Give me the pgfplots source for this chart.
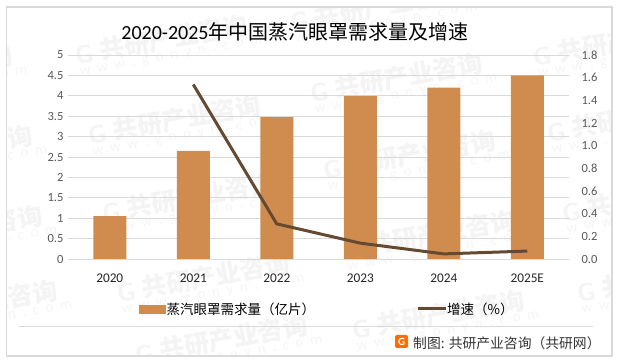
\documentclass[border=0pt]{standalone}
\usepackage{pgfplots}
\usepackage{pgfplotstable}
\usepackage{fontspec}
\pgfplotsset{compat=1.18}
\setmainfont{Carlito}
\newfontfamily\cjk{Noto Sans CJK SC}
\definecolor{barc}{HTML}{D08C4F}
\definecolor{linec}{HTML}{654A32}
\definecolor{gridc}{HTML}{D9D9D9}
\definecolor{tickc}{HTML}{595959}
\definecolor{wmc}{HTML}{F4F4F4}
\definecolor{wmd}{HTML}{F5F5F5}
\newcommand{\wm}[2]{%
  \node[rotate=10,anchor=west,inner sep=0pt,text=wmc] at ({#1},{363-#2})
    {\cjk\bfseries\fontsize{25}{25}\selectfont\makebox[25pt][l]{\textsf{G}}共研产业咨询};%
  \node[rotate=10,anchor=west,inner sep=0pt,text=wmd] at ({#1+5},{363-#2-18})
    {\fontsize{15}{15}\selectfont w\ \ w\ \ w\ \ .\ \ g\ \ o\ \ n\ \ y\ \ n\ \ .\ \ c\ \ o\ \ m};}
\pgfplotstableread{
x y
0 1.05
1 2.65
2 3.48
3 4.0
4 4.2
5 4.5
}\bars
\pgfplotstableread{
x y
1 1.54
2 0.31
3 0.14
4 0.045
5 0.07
}\rate
\begin{document}
\begin{tikzpicture}[x=1pt,y=1pt]
\path[use as bounding box,fill=white] (0,0) rectangle (620,363);
\begin{scope}
\clip (6,7) rectangle (611,356);
\wm{75}{55}\wm{88}{135}\wm{102}{213}\wm{117}{293}\wm{135}{355}
\wm{290}{22}\wm{310}{93}\wm{323}{170}\wm{343}{250}\wm{352}{330}
\wm{533}{57}\wm{547}{133}\wm{562}{213}\wm{577}{293}
\wm{-160}{85}\wm{-140}{165}\wm{-130}{245}\wm{-115}{320}
\end{scope}
\draw[gridc,line width=1.2pt] (6.5,7) rectangle (612,356);
\begin{axis}[
  at={(68pt,104pt)},anchor=south west,
  scale only axis,width=501pt,height=204pt,
  xmin=-0.5,xmax=5.5,ymin=0,ymax=5,
  axis y line*=left,axis x line*=bottom,
  axis line style={gridc,line width=0.8pt},
  y axis line style={draw=none},
  xtick={0,1,2,3,4,5},
  xticklabels={2020,2021,2022,2023,2024,2025E},
  ytick={0,0.5,...,5},
  yticklabels={0,0.5,1,1.5,2,2.5,3,3.5,4,4.5,5},
  major tick length=0pt,
  ymajorgrids,grid style={gridc,line width=0.8pt},
  yticklabel style={font=\fontsize{12.5}{13}\selectfont,text=tickc,xshift=-1pt},
  xticklabel style={font=\fontsize{13.3}{13}\selectfont,text=black!85,yshift=-11pt},
  /pgf/number format/assume math mode=true,
  ybar,bar width=33pt,
]
\addplot[fill=barc,draw=none,bar shift=0pt] table[x=x,y=y]{\bars};
\end{axis}
\begin{axis}[
  at={(68pt,104pt)},anchor=south west,
  scale only axis,width=501pt,height=204pt,
  xmin=-0.5,xmax=5.5,ymin=0,ymax=1.8,
  axis y line*=right,axis x line=none,
  y axis line style={draw=none},
  ytick={0,0.2,...,1.8},
  major tick length=0pt,
  yticklabel style={text=tickc,font=\fontsize{12.5}{13}\selectfont,xshift=9pt},
  /pgf/number format/assume math mode=true,
  /pgf/number format/fixed,/pgf/number format/fixed zerofill,/pgf/number format/precision=1,
  legend style={at={(71pt,-50pt)},anchor=west,draw=none,fill=none,inner sep=0pt,
    legend columns=2,font=\cjk\fontsize{13.5}{13.5}\selectfont,
    /tikz/every even column/.append style={column sep=99pt}},
]
\addlegendimage{legend image code/.code={\fill[barc] (0pt,-4pt) rectangle (26pt,4pt);}}
\addlegendentry{\hspace{-1pt}蒸汽眼罩需求量（亿片）}
\addlegendimage{legend image code/.code={\draw[linec,line width=3pt] (0pt,0pt) -- (28pt,0pt);}}
\addlegendentry{\hspace{-2pt}增速（\%）}
\addplot[linec,line width=3pt,line join=round] table[x=x,y=y]{\rate};
\end{axis}
\node[anchor=center,inner sep=0pt] at (295,331)
  {\fontsize{20}{20}\selectfont 2020-2025{\cjk 年中国蒸汽眼罩需求量及增速}};
\draw[gridc,line width=0.8pt] (19,37) -- (593,37);
\fill[orange!85!red,rounded corners=2pt] (395,15) rectangle (408,28);
\node[white,inner sep=0pt,font=\bfseries\fontsize{11}{11}\selectfont] at (401.5,21.5) {G};
\node[anchor=west,inner sep=0pt,text=black!80] at (413,20)
  {\cjk\fontsize{13.8}{13.8}\selectfont 制图: 共研产业咨询（共研网）};
\end{tikzpicture}
\end{document}
